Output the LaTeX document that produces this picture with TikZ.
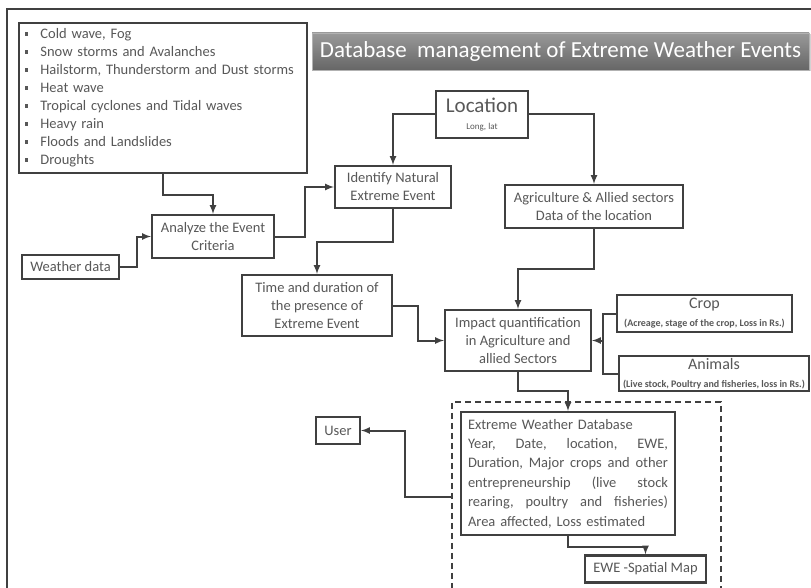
\documentclass[tikz,border=0pt]{standalone}
\usepackage{fontspec}
\setmainfont{Carlito}
\usepackage{tikz}
\usetikzlibrary{arrows,%
                shapes,positioning,shadows}

\definecolor{inkgray}{HTML}{404040}
\definecolor{txtgray}{HTML}{585858}
\newcommand{\evitem}{\rule[3pt]{3.4pt}{3.4pt}\hspace{12pt}}
\newcommand{\jline}[1]{\makebox[200pt][s]{#1}}

\begin{document}
\begin{tikzpicture}[x=1pt,y=-1pt,>=latex,
  box/.style={draw=inkgray,line width=2.1pt,fill=white,text=txtgray,align=center,
    inner sep=2pt,font=\fontsize{14.5}{18}\selectfont},
  link/.style={draw=inkgray,line width=2pt},
  small/.style={font=\fontsize{10}{11}\selectfont\bfseries}]
\clip (0,0) rectangle (811,588);
\fill [white] (0,0) rectangle (811,588);
\draw [inkgray,line width=1.6pt] (7,9) rectangle (840,620);

\node (title) [minimum width=497,minimum height=37,text=white,
  top color=black!40,bottom color=black!60,draw=black!30,line width=0.8pt,
  drop shadow={shadow xshift=1.5pt,shadow yshift=-1.5pt,opacity=0.35},
  font=\fontsize{23}{26}\selectfont] at (560.5,51.5)
  {Database\ \ management of Extreme Weather Events};

\node (events) [box,anchor=north west,minimum width=288,minimum height=150,
  text width=276,align=left,inner xsep=6pt] at (18,22)
  {\evitem Cold wave, Fog\\
   \evitem Snow storms and Avalanches\\
   \evitem Hailstorm, Thunderstorm and Dust storms\\
   \evitem Heat wave\\
   \evitem Tropical cyclones and Tidal waves\\
   \evitem Heavy rain\\
   \evitem Floods and Landslides\\
   \evitem Droughts};

\node (location) [box,minimum width=92,minimum height=47,inner sep=1pt] at (482,114.5)
  {{\fontsize{21}{22}\selectfont Location}\\[-1pt]{\fontsize{9}{10}\selectfont Long, lat}};
\node (identify) [box,minimum width=116,minimum height=42] at (393,187)
  {Identify Natural\\Extreme Event};
\node (agri) [box,minimum width=178,minimum height=43] at (594,206.5)
  {Agriculture \& Allied sectors\\Data of the location};
\node (analyze) [box,minimum width=122,minimum height=43] at (213,236.5)
  {Analyze the Event\\Criteria};
\node (weather) [box,minimum width=97,minimum height=24] at (70.5,267)
  {Weather data};
\node (time) [box,minimum width=150,minimum height=61] at (317,305.5)
  {Time and duration of\\the presence of\\Extreme Event};
\node (impact) [box,minimum width=146,minimum height=61] at (518,340.5)
  {Impact quantification\\in Agriculture and\\allied Sectors};
\node (crop) [box,minimum width=175,minimum height=37,inner sep=1pt] at (704.5,313.5)
  {{\fontsize{16}{17}\selectfont Crop}\\{\fontsize{10}{11}\selectfont\bfseries (Acreage, stage of the crop, Loss in Rs.)}};
\node (animals) [box,minimum width=190,minimum height=35,inner sep=1pt] at (714,373.5)
  {{\fontsize{16}{17}\selectfont Animals}\\{\fontsize{10}{11}\selectfont\bfseries (Live stock, Poultry and fisheries, loss in Rs.)}};

\node (dbframe) [draw=inkgray,line width=1.5pt,dash pattern=on 6pt off 4pt,
  anchor=north west,minimum width=269,minimum height=191] at (451,401) {};
\node (database) [box,minimum width=214,minimum height=123,text width=200,align=left,
  font=\fontsize{14.5}{19.4}\selectfont] at (568,473.5)
  {Extreme Weather Database\\
   \jline{Year,\hfill Date,\hfill location,\hfill EWE,}\\
   \jline{Duration,\hfill Major\hfill crops\hfill and\hfill other}\\
   \jline{entrepreneurship\hfill (live\hfill stock}\\
   \jline{rearing,\hfill poultry\hfill and\hfill fisheries)}\\
   Area affected, Loss estimated};
\node (user) [box,minimum width=44,minimum height=27] at (338,430.5) {User};
\node (ewemap) [box,minimum width=121,minimum height=27] at (645.5,569)
  {EWE -Spatial Map};

\draw [link,->] (location.west) -| (identify.north);
\draw [link,->] (location.east) -| (agri.north);
\draw [link,->] (events.south) -- ++(0,21) -| (analyze.north);
\draw [link,->] (weather.east) -- ++(17,0) |- (analyze.west);
\draw [link,->] (analyze.east) -- ++(30,0) |- (identify.west);
\draw [link,->] (identify.south) -- ++(0,33) -| (time.north);
\draw [link,->] (time.east) -- ++(25,0) |- (impact.west);
\draw [link,->] (agri.south) -- ++(0,40) -| (impact.north);
\draw [link] (crop.west) -- ++(-13,0) coordinate (sidejoin) |- (animals.west);
\draw [link,->] (sidejoin |- impact.east) -- (impact.east);
\draw [link,->] (impact.south) -- ++(0,19) -| (database.north);
\draw [link,->] (dbframe.west) -- ++(-46,0) |- (user.east);
\draw [link,->] (database.south) -- ++(0,11) -| (ewemap.north);

\end{tikzpicture}
\end{document}
